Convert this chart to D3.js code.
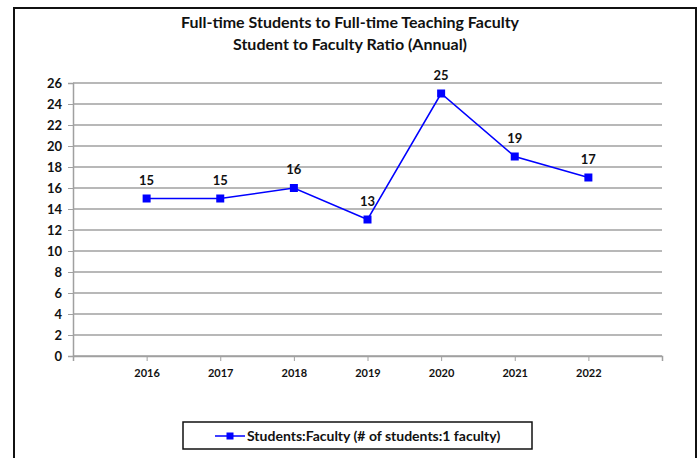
<!DOCTYPE html>
<html><head><meta charset="utf-8">
<script src="https://cdn.jsdelivr.net/npm/d3@7"></script>
<style>body{margin:0;background:#fff}svg{display:block}text{font-family:Lato,"Open Sans",sans-serif;font-weight:bold;fill:#111}</style>
</head><body><svg id="c" width="699" height="458"></svg>
<script>
const years = ["2016","2017","2018","2019","2020","2021","2022"];
const ratios = [15,15,16,13,25,19,17];
const yTicks = [0,2,4,6,8,10,12,14,16,18,20,22,24,26];
const titleLines = ["Full-time Students to Full-time Teaching Faculty","Student to Faculty Ratio (Annual)"];
const seriesName = "Students:Faculty (# of students:1 faculty)";

const svg = d3.select("#c");
svg.append("rect").attr("x",14).attr("y",8).attr("width",682).attr("height",470)
  .attr("fill","#fff").attr("stroke","#111").attr("stroke-width",2);

const L=73,R=662,T=83,B=356;
const slots = ["", ...years, " "];
const x = d3.scalePoint().domain(slots).range([L,R]);
const y = d3.scaleLinear().domain([0,26]).range([B,T]);

svg.append("g").selectAll("line").data(yTicks).join("line")
  .attr("x1",L).attr("x2",R).attr("y1",d=>y(d)).attr("y2",d=>y(d))
  .attr("stroke","#a0a0a0").attr("stroke-width",1.5);

const ya = svg.append("g").attr("transform",`translate(${L},0)`)
  .call(d3.axisLeft(y).tickValues(yTicks).tickSize(5).tickPadding(6));
ya.select(".domain").attr("stroke","#a0a0a0").attr("stroke-width",1.5);
ya.selectAll(".tick line").attr("stroke","#a0a0a0");
ya.selectAll("text").attr("font-size",13).attr("font-family","Lato").attr("font-weight","bold").attr("fill","#111");

const xa = svg.append("g").attr("transform",`translate(0,${B})`)
  .call(d3.axisBottom(x).tickSize(5).tickPadding(8).tickFormat(d=>d.trim()));
xa.select(".domain").attr("stroke","#a0a0a0").attr("stroke-width",1.5);
xa.selectAll(".tick line").attr("stroke","#a0a0a0");
xa.selectAll("text").attr("font-size",11).attr("font-family","Lato").attr("font-weight","bold").attr("fill","#111");

const line = d3.line().x((d,i)=>x(years[i])).y(d=>y(d));
svg.append("path").datum(ratios).attr("d",line).attr("fill","none")
  .attr("stroke","#0000ff").attr("stroke-width",1.5);
svg.append("g").selectAll("rect").data(ratios).join("rect")
  .attr("x",(d,i)=>x(years[i])-4).attr("y",d=>y(d)-4).attr("width",8).attr("height",8).attr("fill","#0000ff");
svg.append("g").selectAll("text").data(ratios).join("text")
  .attr("x",(d,i)=>x(years[i])).attr("y",d=>y(d)-14).attr("text-anchor","middle")
  .attr("font-size",13).text(d=>d);

svg.append("g").selectAll("text").data(titleLines).join("text")
  .attr("x",350).attr("y",(d,i)=>28+i*22).attr("text-anchor","middle").attr("font-size",16).text(d=>d);

const lg = svg.append("g");
lg.append("rect").attr("x",183).attr("y",422).attr("width",349).attr("height",27)
  .attr("fill","#fff").attr("stroke","#111").attr("stroke-width",1.5);
lg.append("line").attr("x1",215).attr("x2",245).attr("y1",436).attr("y2",436).attr("stroke","#0000ff").attr("stroke-width",1.5);
lg.append("rect").attr("x",226.5).attr("y",432.5).attr("width",7).attr("height",7).attr("fill","#0000ff");
lg.append("text").attr("x",247).attr("y",441).attr("font-size",14).text(seriesName);
</script></body></html>
